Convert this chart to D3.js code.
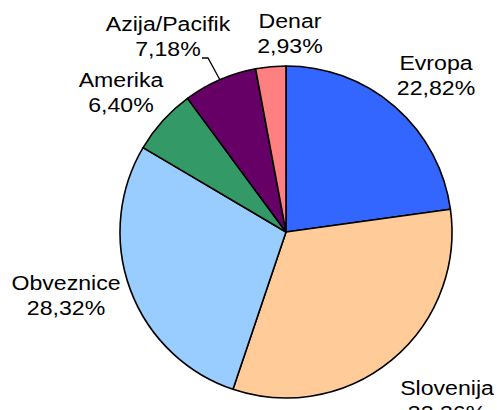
<!DOCTYPE html>
<html>
<head>
<meta charset="utf-8">
<script src="https://cdn.jsdelivr.net/npm/d3@7"></script>
<style>
  body { margin: 0; background: #fff; }
  text { font-family: "Liberation Sans", Arial, sans-serif; font-size: 21px; fill: #000; }
</style>
</head>
<body>
<div id="chart"></div>
<script>
// data
var categories = ["Evropa", "Slovenija", "Obveznice", "Amerika", "Azija/Pacifik", "Denar"];
var values = [22.82, 32.36, 28.32, 6.40, 7.18, 2.93];
var valueLabels = ["22,82%", "32,36%", "28,32%", "6,40%", "7,18%", "2,93%"];
var colors = ["#3366ff", "#ffcc99", "#99ccff", "#339966", "#660066", "#ff8080"];

// label placement (center x, first baseline y)
var labelPos = [[436, 70], [447, 395], [66, 290], [121, 87], [168, 31], [290, 28]];

var w = 497, h = 410;
var cx = 286, cy = 232, r = 166;

var svg = d3.select("#chart")
    .append("svg")
    .attr("width", w)
    .attr("height", h);

var rows = categories.map(function(c, i) { return {name: c, value: values[i], label: valueLabels[i], i: i}; });

var pie = d3.pie()
    .sort(null)
    .value(function(d) { return d.value; });

var arc = d3.arc().innerRadius(0).outerRadius(r);
var edge = d3.arc().innerRadius(r).outerRadius(r);

var g = svg.append("g")
    .attr("transform", "translate(" + cx + "," + cy + ")");

var arcs = pie(rows);

g.selectAll("path")
    .data(arcs)
    .enter()
    .append("path")
    .attr("d", arc)
    .attr("fill", function(d) { return colors[d.data.i]; })
    .attr("stroke", "#000")
    .attr("stroke-width", 1.6)
    .attr("stroke-linejoin", "round");

// labels
var lab = svg.selectAll("g.lab")
    .data(arcs)
    .enter()
    .append("g")
    .attr("class", "lab")
    .attr("transform", function(d) {
        var p = labelPos[d.data.i];
        return "translate(" + p[0] + "," + p[1] + ") scale(1.1,1)";
    });

lab.append("text")
    .attr("text-anchor", "middle")
    .text(function(d) { return d.data.name; });

lab.append("text")
    .attr("text-anchor", "middle")
    .attr("y", 25)
    .text(function(d) { return d.data.label; });

// leader line for Azija/Pacifik
var az = arcs[4];
var e = edge.centroid(az);
svg.append("path")
    .attr("d", "M202,58 L208,58 L" + (cx + e[0]) + "," + (cy + e[1]))
    .attr("fill", "none")
    .attr("stroke", "#000")
    .attr("stroke-width", 1.3);
</script>
</body>
</html>
